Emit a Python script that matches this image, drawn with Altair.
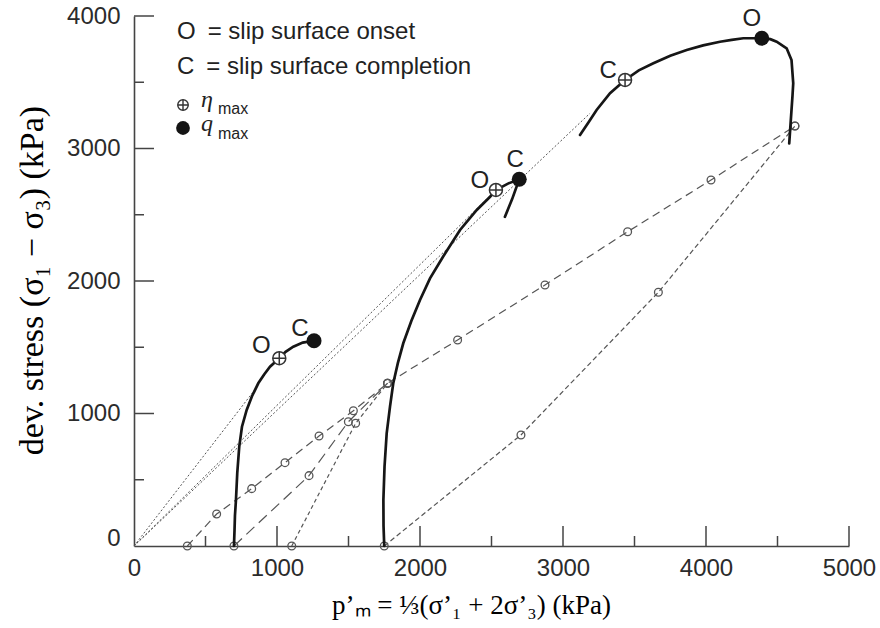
import altair as alt
import pandas as pd

# ---- test curves (solid, thick) : p'm (kPa), q (kPa)
c1_p = [699, 703, 706, 713, 722, 736, 755, 788, 825, 869, 910, 951, 1016, 1060, 1114, 1180, 1259]
c1_q = [0, 120, 230, 347, 549, 750, 900, 1027, 1130, 1228, 1295, 1353, 1417, 1465, 1504, 1535, 1549]

c2_p = [1750, 1745, 1744, 1752, 1767, 1790, 1813, 1845, 1883, 1940, 2000, 2070, 2161, 2280, 2397, 2490, 2531, 2615, 2694, 2645, 2594]
c2_q = [0, 150, 347, 600, 850, 1050, 1228, 1380, 1530, 1700, 1857, 2020, 2183, 2385, 2536, 2636, 2687, 2735, 2768, 2620, 2485]

c3_p = [3119, 3180, 3235, 3329, 3434, 3530, 3632, 3750, 3865, 3980, 4098, 4180, 4261, 4390, 4450, 4494, 4564, 4598, 4610, 4605, 4598, 4582]
c3_q = [3102, 3200, 3291, 3417, 3517, 3590, 3643, 3700, 3743, 3778, 3806, 3820, 3832, 3832, 3825, 3806, 3756, 3668, 3492, 3400, 3291, 3039]

# ---- dashed paths with open circles
pa_p = [373, 578, 823, 1056, 1294, 1534, 1773, 2263, 2874, 3452, 4035, 4622]
pa_q = [0, 241, 433, 629, 830, 1021, 1228, 1555, 1970, 2372, 2762, 3170]
pb_p = [699, 1224, 1499, 1773]
pb_q = [0, 531, 938, 1228]
pc_p = [1103, 1550, 1773]
pc_q = [0, 926, 1228]
pd_p = [1750, 2706, 3667, 4622]
pd_q = [0, 838, 1915, 3170]

# ---- dotted rays from the origin
r_end_p = [867, 2531, 3189]
r_end_q = [1210, 2687, 3266]

# ---- special points
eta_p = [1016, 2531, 3434]
eta_q = [1417, 2687, 3517]
qmax_p = [1259, 2694, 4390]
qmax_q = [1549, 2768, 3832]
eta_lab = ["O", "O", "C"]
qmax_lab = ["C", "C", "O"]

x_major = [1000, 2000, 3000, 4000, 5000]
x_minor = [500, 1500, 2500, 3500, 4500]
y_major = [1000, 2000, 3000, 4000]
y_minor = [500, 1500, 2500, 3500]
x_labels = [0, 1000, 2000, 3000, 4000, 5000]
y_labels = [0, 1000, 2000, 3000, 4000]

legend_lines = ["O\u2002= slip surface onset", "C\u2002= slip surface completion"]

x_title = "p\u2019\u2098 = \u2153(\u03c3\u2019\u2081 + 2\u03c3\u2019\u2083) (kPa)"
y_title = "dev. stress (\u03c3\u2081 \u2212 \u03c3\u2083) (kPa)"

AX = "#444444"
LAB = "#2b2b2b"

xs = alt.Scale(domain=[0, 5000], nice=False, zero=False)
ys = alt.Scale(domain=[0, 4000], nice=False, zero=False)

xaxis = alt.Axis(values=x_labels, format="d", ticks=False, grid=False, domainColor=AX, domainWidth=1.6,
                 labelFont="Liberation Sans", labelFontSize=24, labelColor=LAB, labelPadding=10,
                 labelFlush=False, title=x_title, titleFont="Liberation Serif", titleFontSize=27,
                 titleFontWeight="normal", titleColor="#000000", titleX=337, titleY=59,
                 titleAlign="center", titleBaseline="middle")
yaxis = alt.Axis(values=y_labels, format="d", ticks=False, grid=False, domainColor=AX, domainWidth=1.6,
                 labelFont="Liberation Sans", labelFontSize=24, labelColor=LAB, labelPadding=14,
                 labelFlush=False,
                 labelOffset={"condition": {"test": "datum.value === 0", "value": -8}, "value": 0},
                 title=y_title, titleFont="Liberation Serif", titleFontSize=34,
                 titleFontWeight="normal", titleColor="#000000", titleX=-102, titleY=264,
                 titleAlign="center", titleBaseline="middle")


def X(f):
    return alt.X(f, type="quantitative", scale=xs, axis=xaxis)


def Y(f):
    return alt.Y(f, type="quantitative", scale=ys, axis=yaxis)


def seq(p, q, name):
    return pd.DataFrame({"p": p, "q": q, "s": name, "i": list(range(len(p)))})


curves = pd.concat([seq(c1_p, c1_q, "c1"), seq(c2_p, c2_q, "c2"), seq(c3_p, c3_q, "c3")])

layers = []

# rays from origin
rays = pd.concat([seq([0, r_end_p[k]], [0, r_end_q[k]], "r%d" % k) for k in range(3)])
layers.append(alt.Chart(rays).mark_line(color="#555555", strokeWidth=1, strokeDash=[2, 2]).encode(
    x=X("p"), y=Y("q"), detail="s:N", order="i:Q"))

# dashed paths
for p, q, dash in [(pa_p, pa_q, [8, 5]), (pb_p, pb_q, [11, 6]), (pc_p, pc_q, [4, 3]), (pd_p, pd_q, [5, 3])]:
    d = seq(p, q, "x")
    layers.append(alt.Chart(d).mark_line(color="#555555", strokeWidth=1.2, strokeDash=dash).encode(
        x=X("p"), y=Y("q"), order="i:Q"))
    layers.append(alt.Chart(d).mark_point(shape="circle", filled=False, size=60, stroke="#555555",
                                          strokeWidth=1.3, opacity=1).encode(x=X("p"), y=Y("q")))

# solid test curves
layers.append(alt.Chart(curves).mark_line(color="#161616", strokeWidth=2.7, strokeCap="round").encode(
    x=X("p"), y=Y("q"), detail="s:N", order="i:Q"))

# eta_max markers
eta_df = pd.DataFrame({"p": eta_p, "q": eta_q, "t": eta_lab})
layers.append(alt.Chart(eta_df).mark_point(shape="circle", filled=True, fill="white", size=169,
                                           stroke="#333333", strokeWidth=1.5, opacity=1).encode(
    x=X("p"), y=Y("q")))
layers.append(alt.Chart(eta_df).mark_point(shape="M-1,0L1,0M0,-1L0,1", filled=False, size=169,
                                           stroke="#333333", strokeWidth=1.5, opacity=1).encode(
    x=X("p"), y=Y("q")))
# q_max markers
q_df = pd.DataFrame({"p": qmax_p, "q": qmax_q, "t": qmax_lab})
layers.append(alt.Chart(q_df).mark_point(shape="circle", filled=True, size=225, color="#141414",
                                         opacity=1).encode(x=X("p"), y=Y("q")))

# O / C labels
lab_offsets_eta = [(-18, -12), (-16, -9), (-17, -9)]
lab_offsets_q = [(-14, -12), (-4, -19), (-10, -19)]
for k in range(3):
    d1 = eta_df.iloc[[k]]
    d2 = q_df.iloc[[k]]
    layers.append(alt.Chart(d1).mark_text(font="Liberation Sans", fontSize=24, color="#222222",
                                          dx=lab_offsets_eta[k][0], dy=lab_offsets_eta[k][1]).encode(
        x=X("p"), y=Y("q"), text="t:N"))
    layers.append(alt.Chart(d2).mark_text(font="Liberation Sans", fontSize=24, color="#222222",
                                          dx=lab_offsets_q[k][0], dy=lab_offsets_q[k][1]).encode(
        x=X("p"), y=Y("q"), text="t:N"))

# inward ticks
for vals, size in [(x_major, 20), (x_minor, 10)]:
    layers.append(alt.Chart(pd.DataFrame({"v": vals})).mark_tick(
        orient="vertical", size=size, thickness=1.5, color=AX, yOffset=-size / 2, opacity=1).encode(
        x=X("v"), y=alt.YDatum(0, type="quantitative", scale=ys, axis=yaxis)))
for vals, size in [(y_major, 20), (y_minor, 10)]:
    layers.append(alt.Chart(pd.DataFrame({"v": vals})).mark_tick(
        orient="horizontal", size=size, thickness=1.5, color=AX, xOffset=size / 2, opacity=1).encode(
        y=Y("v"), x=alt.XDatum(0, type="quantitative", scale=xs, axis=xaxis)))

# legend block (top-left)
for k, yy in enumerate([15.5, 50.5]):
    layers.append(alt.Chart(pd.DataFrame({"t": [legend_lines[k]]})).mark_text(
        align="left", baseline="middle", font="Liberation Sans", fontSize=24, color="#222222").encode(
        x=alt.value(43), y=alt.value(yy), text="t:N"))

sym_df = pd.DataFrame({"t": ["\u03b7", "q"], "s": ["max", "max"]})
layers.append(alt.Chart(sym_df.iloc[[0]]).mark_point(shape="circle", filled=True, fill="white", size=110,
                                                     stroke="#333333", strokeWidth=1.4, opacity=1).encode(
    x=alt.value(49), y=alt.value(89)))
layers.append(alt.Chart(sym_df.iloc[[0]]).mark_point(shape="M-1,0L1,0M0,-1L0,1", filled=False, size=110,
                                                     stroke="#333333", strokeWidth=1.4, opacity=1).encode(
    x=alt.value(49), y=alt.value(89)))
layers.append(alt.Chart(sym_df.iloc[[1]]).mark_point(shape="circle", filled=True, size=190,
                                                     color="#141414", opacity=1).encode(
    x=alt.value(49), y=alt.value(112)))
for k, (yt, ys_) in enumerate([(84, 93), (108, 118)]):
    layers.append(alt.Chart(sym_df.iloc[[k]]).mark_text(
        align="left", baseline="middle", font="Liberation Serif", fontStyle="italic", fontSize=24,
        color="#222222").encode(x=alt.value(67), y=alt.value(yt), text="t:N"))
    layers.append(alt.Chart(sym_df.iloc[[k]]).mark_text(
        align="left", baseline="middle", font="Liberation Sans", fontSize=16,
        color="#222222").encode(x=alt.value(84), y=alt.value(ys_), text="s:N"))

chart = alt.layer(*layers).properties(
    width=715, height=530,
    autosize=alt.AutoSizeParams(type="none"),
    padding={"left": 134, "top": 16, "right": 31, "bottom": 82},
    background="white",
).configure_view(stroke=None)

chart.save("out.html", embed_options={"renderer": "svg", "actions": False})
